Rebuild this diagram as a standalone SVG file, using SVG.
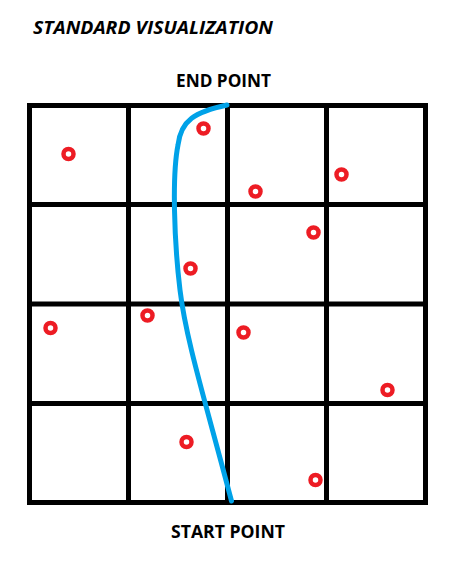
<svg xmlns="http://www.w3.org/2000/svg" width="468" height="569" viewBox="0 0 468 569">
<style>
.t{font-family:"Open Sans","Liberation Sans",sans-serif;font-weight:bold;font-size:17px;fill:#000}
.g{stroke:#000;stroke-width:5;fill:none}
.d{fill:none;stroke:#ED1C24;stroke-width:4.5}
</style>
<rect width="468" height="569" fill="#fff"/>
<text class="t" x="33" y="34" font-style="italic" textLength="240" lengthAdjust="spacingAndGlyphs">STANDARD VISUALIZATION</text>
<text class="t" x="176" y="87" textLength="95" lengthAdjust="spacingAndGlyphs">END POINT</text>
<text class="t" x="171" y="538" textLength="114" lengthAdjust="spacingAndGlyphs">START POINT</text>
<g id="grid" class="g">
<rect x="29.5" y="105.5" width="396" height="397"/>
<line x1="128.5" y1="105.5" x2="128.5" y2="502.5"/>
<line x1="227.5" y1="105.5" x2="227.5" y2="502.5"/>
<line x1="326.5" y1="105.5" x2="326.5" y2="502.5"/>
<line x1="29.5" y1="204.5" x2="425.5" y2="204.5"/>
<line x1="29.5" y1="304" x2="425.5" y2="304"/>
<line x1="29.5" y1="403.5" x2="425.5" y2="403.5"/>
</g>
<g id="points">
<circle class="d" cx="68.5" cy="154" r="5"/>
<circle class="d" cx="203.5" cy="128.5" r="5"/>
<circle class="d" cx="255.5" cy="191.5" r="5"/>
<circle class="d" cx="341.5" cy="174.5" r="5"/>
<circle class="d" cx="313.5" cy="232.5" r="5"/>
<circle class="d" cx="190.5" cy="268.5" r="5"/>
<circle class="d" cx="50.5" cy="328" r="5"/>
<circle class="d" cx="147.5" cy="315.5" r="5"/>
<circle class="d" cx="243.5" cy="332.5" r="5"/>
<circle class="d" cx="387.5" cy="390" r="5"/>
<circle class="d" cx="186.5" cy="442" r="5"/>
<circle class="d" cx="315.5" cy="480" r="5"/>
</g>
<g id="connectors">
<path d="M227,105 C195,112 181,120 178,145 C172,175 174,240 180,290 C186,340 205,400 231.5,501" fill="none" stroke="#00A2E8" stroke-width="5" stroke-linecap="round"/>
</g>
</svg>
